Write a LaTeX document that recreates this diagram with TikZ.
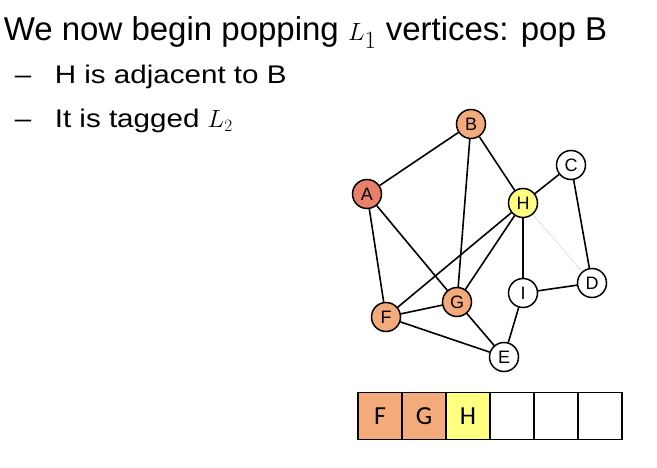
\documentclass[tikz,border=0pt]{standalone}
\usepackage{fontspec}
\setmainfont{Liberation Sans}
\newfontfamily\subfont[FakeStretch=1.16,Ligatures=TeX]{Liberation Sans}
\newfontfamily\cellfont{Carlito}
\definecolor{lzero}{HTML}{E8806A}
\definecolor{lone}{HTML}{F4AB7B}
\definecolor{ltwo}{HTML}{FFFF80}
\begin{document}
\begin{tikzpicture}[x=1pt,y=-1pt,line width=1.6pt,
    vert/.style={circle,draw,line width=1.5pt,minimum size=29pt,inner sep=0pt,
      font=\fontsize{18}{18}\selectfont},
    cell/.style={draw,line width=1.2pt,minimum width=44pt,minimum height=47pt,
      inner sep=0pt,font=\cellfont\fontsize{26}{26}\selectfont},
    bullet/.style={anchor=base west,inner sep=0pt,font=\subfont\fontsize{25.5}{25.5}\selectfont}]
    \useasboundingbox (0,0) rectangle (657,468);

    % bullet text
    \node[anchor=base west,inner sep=0pt,font=\fontsize{33}{33}\selectfont] (title) at (3,41)
      {We now begin popping $L_1$ vertices: pop B};
    \node[bullet] (dashone) at (14,84) {\textendash};
    \node[bullet] (lineone) at (54,84) {H is adjacent to B};
    \node[bullet] (dashtwo) at (14,128) {\textendash};
    \node[bullet] (linetwo) at (54,128) {It is tagged $L_2$};

    % vertices
    \node[vert,fill=lone] (B) at (471,124) {B};
    \node[vert,fill=lzero] (A) at (367,194) {A};
    \node[vert] (C) at (571,165) {C};
    \node[vert,fill=ltwo] (H) at (523,203) {H};
    \node[vert] (D) at (592,283) {D};
    \node[vert] (I) at (523,293) {I};
    \node[vert,fill=lone] (G) at (457,302) {G};
    \node[vert,fill=lone] (F) at (386,317) {F};
    \node[vert] (E) at (504,357) {E};

    % edges
    \draw (A) -- (B);
    \draw (B) -- (G);
    \draw (B) -- (H);
    \draw (A) -- (F);
    \draw (A) -- (G);
    \draw (H) -- (C);
    \draw (H) -- (F);
    \draw (H) -- (G);
    \draw (H) -- (I);
    \draw[line width=0.4pt,black!20] (H) -- (D);
    \draw (C) -- (D);
    \draw (I) -- (D);
    \draw (I) -- (E);
    \draw (F) -- (G);
    \draw (F) -- (E);
    \draw (G) -- (E);

    % queue
    \node[cell,fill=lone] (qone) at (380,416) {F};
    \node[cell,fill=lone] (qtwo) at (424,416) {G};
    \node[cell,fill=ltwo] (qthree) at (468,416) {H};
    \node[cell] (qfour) at (512,416) {};
    \node[cell] (qfive) at (556,416) {};
    \node[cell] (qsix) at (600,416) {};
  \end{tikzpicture}
\end{document}
